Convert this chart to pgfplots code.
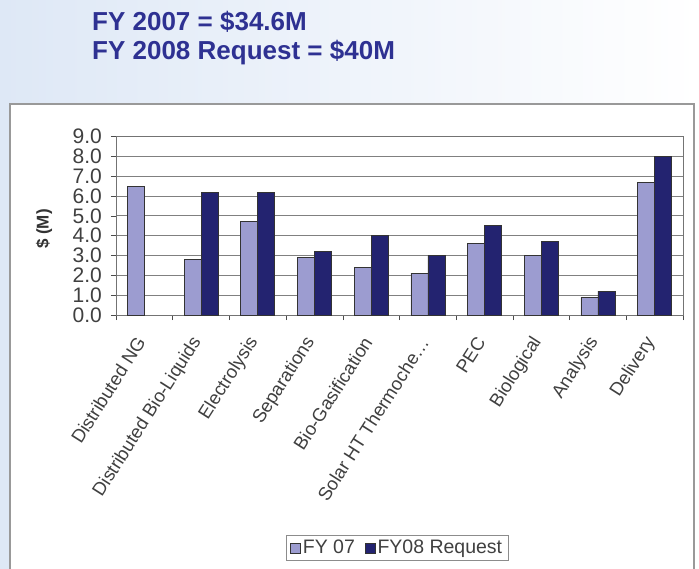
\documentclass[border=0pt]{standalone}
\usepackage{pgfplots}
\pgfplotsset{compat=1.18}
\usepackage{fontspec}
\setmainfont{Liberation Sans}

\definecolor{titleblue}{RGB}{46,49,146}
\definecolor{fyseven}{RGB}{156,156,208}
\definecolor{fyeight}{RGB}{35,35,112}
\definecolor{headbg}{RGB}{222,232,246}

% FY07 and FY08 request, $M, by programme element (0 = Distributed NG ... 9 = Delivery)
\pgfplotstableread{
x  v
0  6.5
1  2.8
2  4.7
3  2.9
4  2.4
5  2.1
6  3.6
7  3.0
8  0.9
9  6.7
}\fyseven
\pgfplotstableread{
x  v
1  6.2
2  6.2
3  3.2
4  4.0
5  3.0
6  4.5
7  3.7
8  1.2
9  8.0
}\fyeight

\begin{document}
\begin{tikzpicture}
\useasboundingbox (0,0) rectangle (699pt,568pt);
\clip (0,0) rectangle (699pt,568pt);
\shade[left color=headbg, right color=white] (0,0) rectangle (699pt,568pt);
\fill[white] (10pt,-10pt) rectangle (694pt,464pt);
\draw[black!40, line width=2pt] (10pt,-10pt) rectangle (694pt,464pt);

\node[anchor=base west, text=titleblue, font=\fontsize{26}{30}\selectfont\bfseries, inner sep=0pt]
  at (92pt,537pt) {FY 2007 = \$34.6M};
\node[anchor=base west, text=titleblue, font=\fontsize{26}{30}\selectfont\bfseries, inner sep=0pt]
  at (92pt,508pt) {FY 2008 Request = \$40M};

\begin{axis}[
    at={(116pt,253pt)}, anchor=south west,
    scale only axis,
    width=567pt, height=178.5pt,
    ybar=0pt, bar width=17pt,
    xmin=-0.5, xmax=9.5,
    ymin=0, ymax=9,
    ytick={0,1,...,9},
    xtick={0,1,2,3,4,5,6,7,8,9},
    xticklabels={Distributed NG, Distributed Bio-Liquids, Electrolysis, Separations,
                 Bio-Gasification, {Solar HT Thermoche\ldots}, PEC, Biological, Analysis, Delivery},
    minor xtick={-0.5,0.5,1.5,2.5,3.5,4.5,5.5,6.5,7.5,8.5,9.5},
    major x tick style={draw=none},
    xtick pos=bottom, ytick pos=left,
    tick align=outside,
    tick style={black!70, line width=0.6pt},
    major tick length=5pt, minor tick length=5pt,
    axis line style={black!55, line width=0.8pt},
    ymajorgrids,
    grid style={black!50, line width=0.9pt},
    /pgf/number format/assume math mode=true,
    yticklabel style={/pgf/number format/.cd, fixed, fixed zerofill, precision=1, /tikz/.cd,
        font=\fontsize{21}{21}\selectfont, text=black!75, inner sep=1pt, xshift=-8pt},
    xticklabel style={xshift=-3pt, yshift=-18pt, rotate=57.5, anchor=east,
        font=\fontsize{18.5}{20}\selectfont, text=black!75, inner sep=1pt},
    ylabel={\$ (M)},
    ylabel style={at={(-72pt,86pt)}, rotate=0, anchor=center,
        font=\fontsize{17}{18}\selectfont\bfseries, text=black!80},
    legend style={at={(axis description cs:0.496,-1.305)}, anchor=center,
        legend columns=2, font=\fontsize{19.5}{22}\selectfont, text=black!75,
        draw=black!45, line width=0.8pt, inner xsep=4pt, inner ysep=3pt,
        /tikz/every even column/.append style={column sep=8pt}},
    legend image code/.code={\draw[#1, line width=0.6pt] (0pt,-5pt) rectangle (10pt,5pt);},
]
\addplot[fill=fyseven, draw=black!80, line width=0.7pt] table[x=x, y=v] {\fyseven};
\addlegendentry{FY 07}
\addplot[fill=fyeight, draw=black!80, line width=0.7pt] table[x=x, y=v] {\fyeight};
\addlegendentry{FY08 Request}
\draw[black!50, line width=0.9pt] (rel axis cs:1,0) -- (rel axis cs:1,1);
\end{axis}
\end{tikzpicture}
\end{document}
